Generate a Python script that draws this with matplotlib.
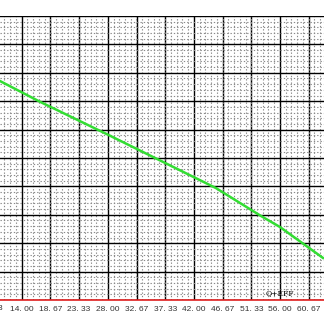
import matplotlib
matplotlib.use("Agg")
import matplotlib.pyplot as plt
from matplotlib.ticker import MultipleLocator, FixedLocator, FixedFormatter
import matplotlib.transforms as mtransforms
import numpy as np

# data
x_vals = [10.47, 16.97, 28.03, 45.6, 52.9, 56.0, 63.0]
y_vals = [7.71, 6.98, 5.82, 3.94, 2.96, 2.57, 1.48]
x_ticks = [9.33, 14.00, 18.67, 23.33, 28.00, 32.67, 37.33, 42.00, 46.67, 51.33, 56.00, 60.67]
x_labels = ["9. 33", "14. 00", "18. 67", "23. 33", "28. 00", "32. 67", "37. 33",
            "42. 00", "46. 67", "51. 33", "56. 00", "60. 67"]
note_text = "Q+EFF"

fig = plt.figure(figsize=(3.24, 3.24), dpi=100)
ax = fig.add_axes([0.0, 24/324, 1.0, 1 - 40/324])
ax.set_xlim(10.47, 63.16)
ax.set_ylim(0, 10)

ax.xaxis.set_major_locator(FixedLocator(x_ticks[1:]))
ax.xaxis.set_major_formatter(FixedFormatter(x_labels[1:]))
ax.xaxis.set_minor_locator(MultipleLocator(14/15))
ax.yaxis.set_major_locator(MultipleLocator(1))
ax.yaxis.set_minor_locator(MultipleLocator(0.2))

ax.grid(which="major", color="black", linewidth=1.0)
ax.grid(which="minor", color="#8a8a8a", linewidth=0.8, linestyle=(0, (1.2, 1.8)))
ax.tick_params(which="both", length=0)
ax.tick_params(axis="x", labelsize=6.0, pad=4.5, colors="#333333")
for lab in ax.get_xticklabels():
    lab.set_family("Liberation Sans")
ax.set_yticklabels([])
for s in ["left", "right", "top"]:
    ax.spines[s].set_visible(False)
ax.spines["bottom"].set_color("#e02020")
ax.spines["bottom"].set_linewidth(1.2)

# partially visible first label
trans = mtransforms.blended_transform_factory(ax.transData, ax.transAxes)
ax.text(x_ticks[0], -0.0165, x_labels[0], transform=trans, ha="center", va="top",
        fontsize=6.0, family="Liberation Sans", color="#333333", clip_on=False)

ax.plot(x_vals, y_vals, color="#33dd33", linewidth=1.8)
ax.text(56.0, 0.25, note_text, fontsize=5.5, ha="center", va="center",
        family="DejaVu Serif")
ax.set_axisbelow(True)

fig.savefig("out.png", dpi=100)
